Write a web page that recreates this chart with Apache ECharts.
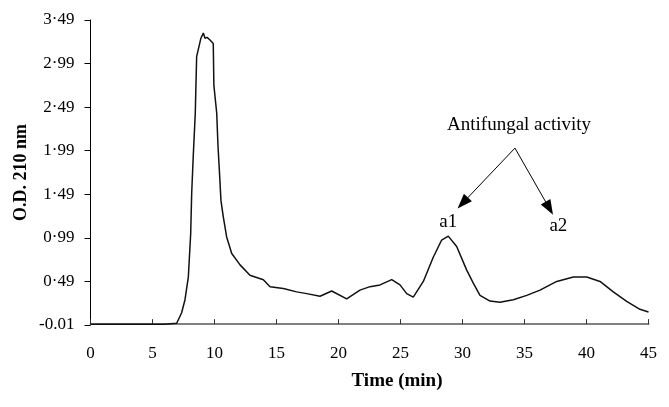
<!DOCTYPE html>
<html>
<head>
    <meta charset="utf-8">
    <title>OD 210 nm</title>
    <script src="https://cdn.jsdelivr.net/npm/echarts@6/dist/echarts.min.js"></script>
</head>
<body style="margin:0;">
    <div id="main" style="width: 669px;height:407px;"></div>
    <script type="text/javascript">
        // elution time (min) and absorbance
        var times = [0, 3, 6, 6.95, 7.35, 7.62, 7.89, 8.08, 8.16, 8.29, 8.45, 8.56, 8.9, 9.1, 9.23, 9.4, 9.64, 9.9,
            9.95, 10.18, 10.28, 10.39, 10.52, 10.71, 10.98, 11.39, 12.06, 12.86, 13.94, 14.48, 15.55, 16.63,
            17.44, 18.51, 19.45, 20.66, 21.73, 22.54, 23.35, 24.29, 24.96, 25.5, 26.03, 26.84, 27.65, 28.32,
            28.85, 29.53, 30.34, 30.87, 31.41, 32.22, 33.02, 34.1, 35.18, 36.25, 37.6, 38.94, 40.02, 41.09,
            42.16, 43.24, 44.31, 45];
        var od = [0, 0, 0, 0.01, 0.13, 0.28, 0.54, 1.04, 1.5, 1.94, 2.42, 3.07, 3.28, 3.34, 3.28, 3.29, 3.26, 3.22,
            2.74, 2.42, 2.05, 1.77, 1.42, 1.23, 1.0, 0.81, 0.68, 0.56, 0.51, 0.43, 0.41, 0.37,
            0.35, 0.32, 0.38, 0.29, 0.39, 0.43, 0.45, 0.51, 0.45, 0.35, 0.31, 0.49, 0.77, 0.965,
            1.01, 0.89, 0.62, 0.47, 0.33, 0.265, 0.25, 0.28, 0.33, 0.39, 0.49, 0.54, 0.54, 0.49,
            0.37, 0.26, 0.17, 0.14];

        // annotation: arrows and peak names
        var peakNames = ['a1', 'a2'];
        var peakLabelAt = [[28.85, 1.175], [37.73, 1.125]];
        var arrowFrom = [34.23, 2.02];
        var arrowTo = [[30.02, 1.39], [37.0, 1.33]];
        var noteText = 'Antifungal activity';
        var noteAt = [34.56, 2.28];

        var font = 'Liberation Serif';
        var points = times.map(function (t, i) { return [t, od[i]]; });

        var dom = document.getElementById('main');
        var myChart = echarts.init(dom);

        var labelPoints = peakNames.map(function (n, i) {
            return { name: n, coord: peakLabelAt[i], label: { formatter: n } };
        });
        labelPoints.push({ name: 'note', coord: noteAt, label: { formatter: noteText } });

        var option = {
            animation: false,
            grid: { left: 90.5, right: 20.5, top: 20, bottom: 82, outerBoundsMode: 'none' },
            xAxis: {
                type: 'value',
                min: 0, max: 45, interval: 5,
                name: 'Time (min)',
                nameLocation: 'middle',
                nameGap: 47,
                nameTextStyle: { fontFamily: font, fontWeight: 'bold', fontSize: 19, color: '#000', padding: [0, 0, 0, 55] },
                axisLine: { lineStyle: { color: '#808080', width: 2 } },
                axisTick: { inside: true, length: 5, lineStyle: { color: '#333', width: 1 } },
                axisLabel: { fontFamily: font, fontSize: 17, color: '#000', margin: 20 },
                splitLine: { show: false }
            },
            yAxis: {
                type: 'value',
                min: -0.01, max: 3.49, interval: 0.5,
                name: 'O.D. 210 nm',
                nameLocation: 'middle',
                nameGap: 60,
                nameMoveOverlap: false,
                nameTextStyle: { fontFamily: font, fontWeight: 'bold', fontSize: 18, color: '#000' },
                axisLine: { show: true, lineStyle: { color: '#000', width: 1 } },
                axisTick: { show: true, length: 6, lineStyle: { color: '#000' } },
                axisLabel: {
                    fontFamily: font, fontSize: 17, color: '#000', margin: 16,
                    formatter: function (v) {
                        var s = v.toFixed(2);
                        return v < 0 ? s : s.replace('.', '\u00b7');
                    }
                },
                splitLine: { show: false }
            },
            series: [{
                type: 'line',
                data: points,
                showSymbol: false,
                lineStyle: { color: '#111', width: 1.5 },
                markLine: {
                    silent: true,
                    symbol: ['none', 'triangle'],
                    symbolSize: [11, 15],
                    label: { show: false },
                    lineStyle: { color: '#000', width: 1, type: 'solid' },
                    itemStyle: { color: '#000' },
                    data: arrowTo.map(function (p) {
                        return [{ coord: arrowFrom }, { coord: p }];
                    })
                },
                markPoint: {
                    silent: true,
                    symbol: 'circle',
                    symbolSize: 1,
                    itemStyle: { color: 'rgba(0,0,0,0)' },
                    label: { show: true, position: 'inside', fontFamily: font, fontSize: 19, color: '#000' },
                    data: labelPoints
                }
            }]
        };
        myChart.setOption(option);
    </script>
</body>
</html>
